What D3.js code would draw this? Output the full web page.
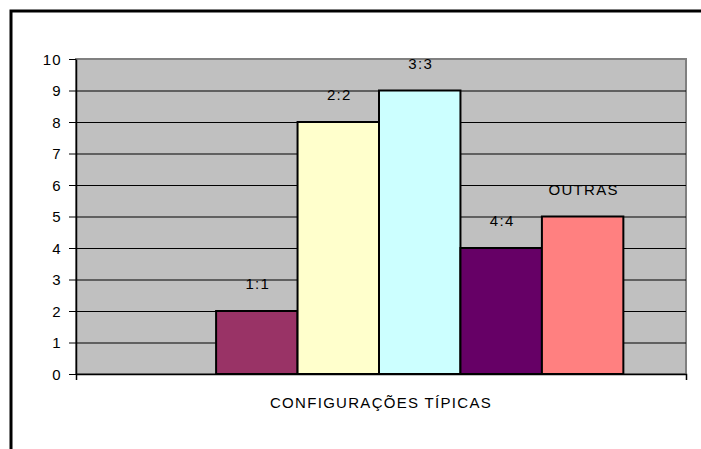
<!doctype html>
<html>
<head>
<meta charset="utf-8">
<style>
  body { margin: 0; background: #fff; }
  svg text { font-family: "Liberation Sans", Arial, sans-serif; font-size: 15px; letter-spacing: 1.3px; fill: #000; }
</style>
<script src="https://d3js.org/d3.v7.min.js"></script>
</head>
<body>
<svg width="701" height="449" id="chart"></svg>
<script>
  // single category, one bar per series (first series is empty)
  var categories = ["CONFIGURAÇÕES TÍPICAS"];
  var seriesNames = ["", "1:1", "2:2", "3:3", "4:4", "OUTRAS"];
  var seriesValues = [null, 2, 8, 9, 4, 5];
  var seriesColors = ["#C0C0C0", "#993366", "#FFFFCC", "#CCFFFF", "#660066", "#FF8080"];
  var yTicks = [0, 1, 2, 3, 4, 5, 6, 7, 8, 9, 10];

  var svg = d3.select("#chart");

  // outer chart frame (runs off the page on right/bottom)
  svg.append("rect")
     .attr("x", 11).attr("y", 11)
     .attr("width", 760).attr("height", 500)
     .attr("fill", "#fff")
     .attr("stroke", "#000")
     .attr("stroke-width", 3);

  var plotLeft = 76, plotRight = 686, plotTop = 59, plotBottom = 374;

  var y = d3.scaleLinear().domain([0, 10]).range([plotBottom, plotTop]);
  var xCat = d3.scaleBand().domain(categories).range([plotLeft, plotRight]);
  var xSer = d3.scaleBand().domain(seriesNames.map(function(d, i) { return i; }))
               .range([plotLeft, plotRight - 4])
               .paddingInner(0)
               .paddingOuter(0.72);

  // plot area
  svg.append("rect")
     .attr("x", plotLeft).attr("y", plotTop)
     .attr("width", plotRight - plotLeft).attr("height", plotBottom - plotTop)
     .attr("fill", "#C0C0C0")
     .attr("stroke", "#808080")
     .attr("stroke-width", 2);

  // gridlines
  svg.append("g").selectAll("line")
     .data(yTicks.filter(function(d) { return d > 0 && d < 10; }))
     .enter().append("line")
     .attr("x1", plotLeft).attr("x2", plotRight)
     .attr("y1", function(d) { return y(d) + 0.5; })
     .attr("y2", function(d) { return y(d) + 0.5; })
     .attr("stroke", "#000")
     .attr("stroke-width", 1);

  // bars
  var data = seriesNames.map(function(n, i) { return {name: n, value: seriesValues[i], color: seriesColors[i], i: i}; })
                        .filter(function(d) { return d.value !== null; });

  svg.append("g").selectAll("rect")
     .data(data)
     .enter().append("rect")
     .attr("x", function(d) { return xSer(d.i); })
     .attr("y", function(d) { return y(d.value); })
     .attr("width", xSer.bandwidth())
     .attr("height", function(d) { return plotBottom - y(d.value); })
     .attr("fill", function(d) { return d.color; })
     .attr("stroke", "#000")
     .attr("stroke-width", 2);

  // series name labels above bars
  svg.append("g").selectAll("text")
     .data(data)
     .enter().append("text")
     .attr("x", function(d) { return xSer(d.i) + xSer.bandwidth() / 2 + 1; })
     .attr("y", function(d) { return y(d.value) - 22; })
     .attr("text-anchor", "middle")
     .text(function(d) { return d.name; });

  // y axis
  var yAxis = svg.append("g")
     .attr("transform", "translate(" + plotLeft + ",0)")
     .call(d3.axisLeft(y).tickValues(yTicks).tickSizeInner(7).tickSizeOuter(0).tickPadding(7));
  yAxis.select(".domain").attr("stroke", "#000").attr("stroke-width", 1.5);
  yAxis.selectAll(".tick line").attr("stroke", "#000");
  yAxis.selectAll("text").attr("font-size", null).attr("font-family", null).attr("dy", "0.36em");

  // x axis with category label
  var xAxis = svg.append("g")
     .attr("transform", "translate(0," + plotBottom + ")")
     .call(d3.axisBottom(xCat).tickSizeInner(0).tickSizeOuter(6).tickPadding(23));
  xAxis.select(".domain").attr("stroke", "#000").attr("stroke-width", 1.5);
  xAxis.selectAll("text").attr("font-size", null).attr("font-family", null);
</script>
</body>
</html>
